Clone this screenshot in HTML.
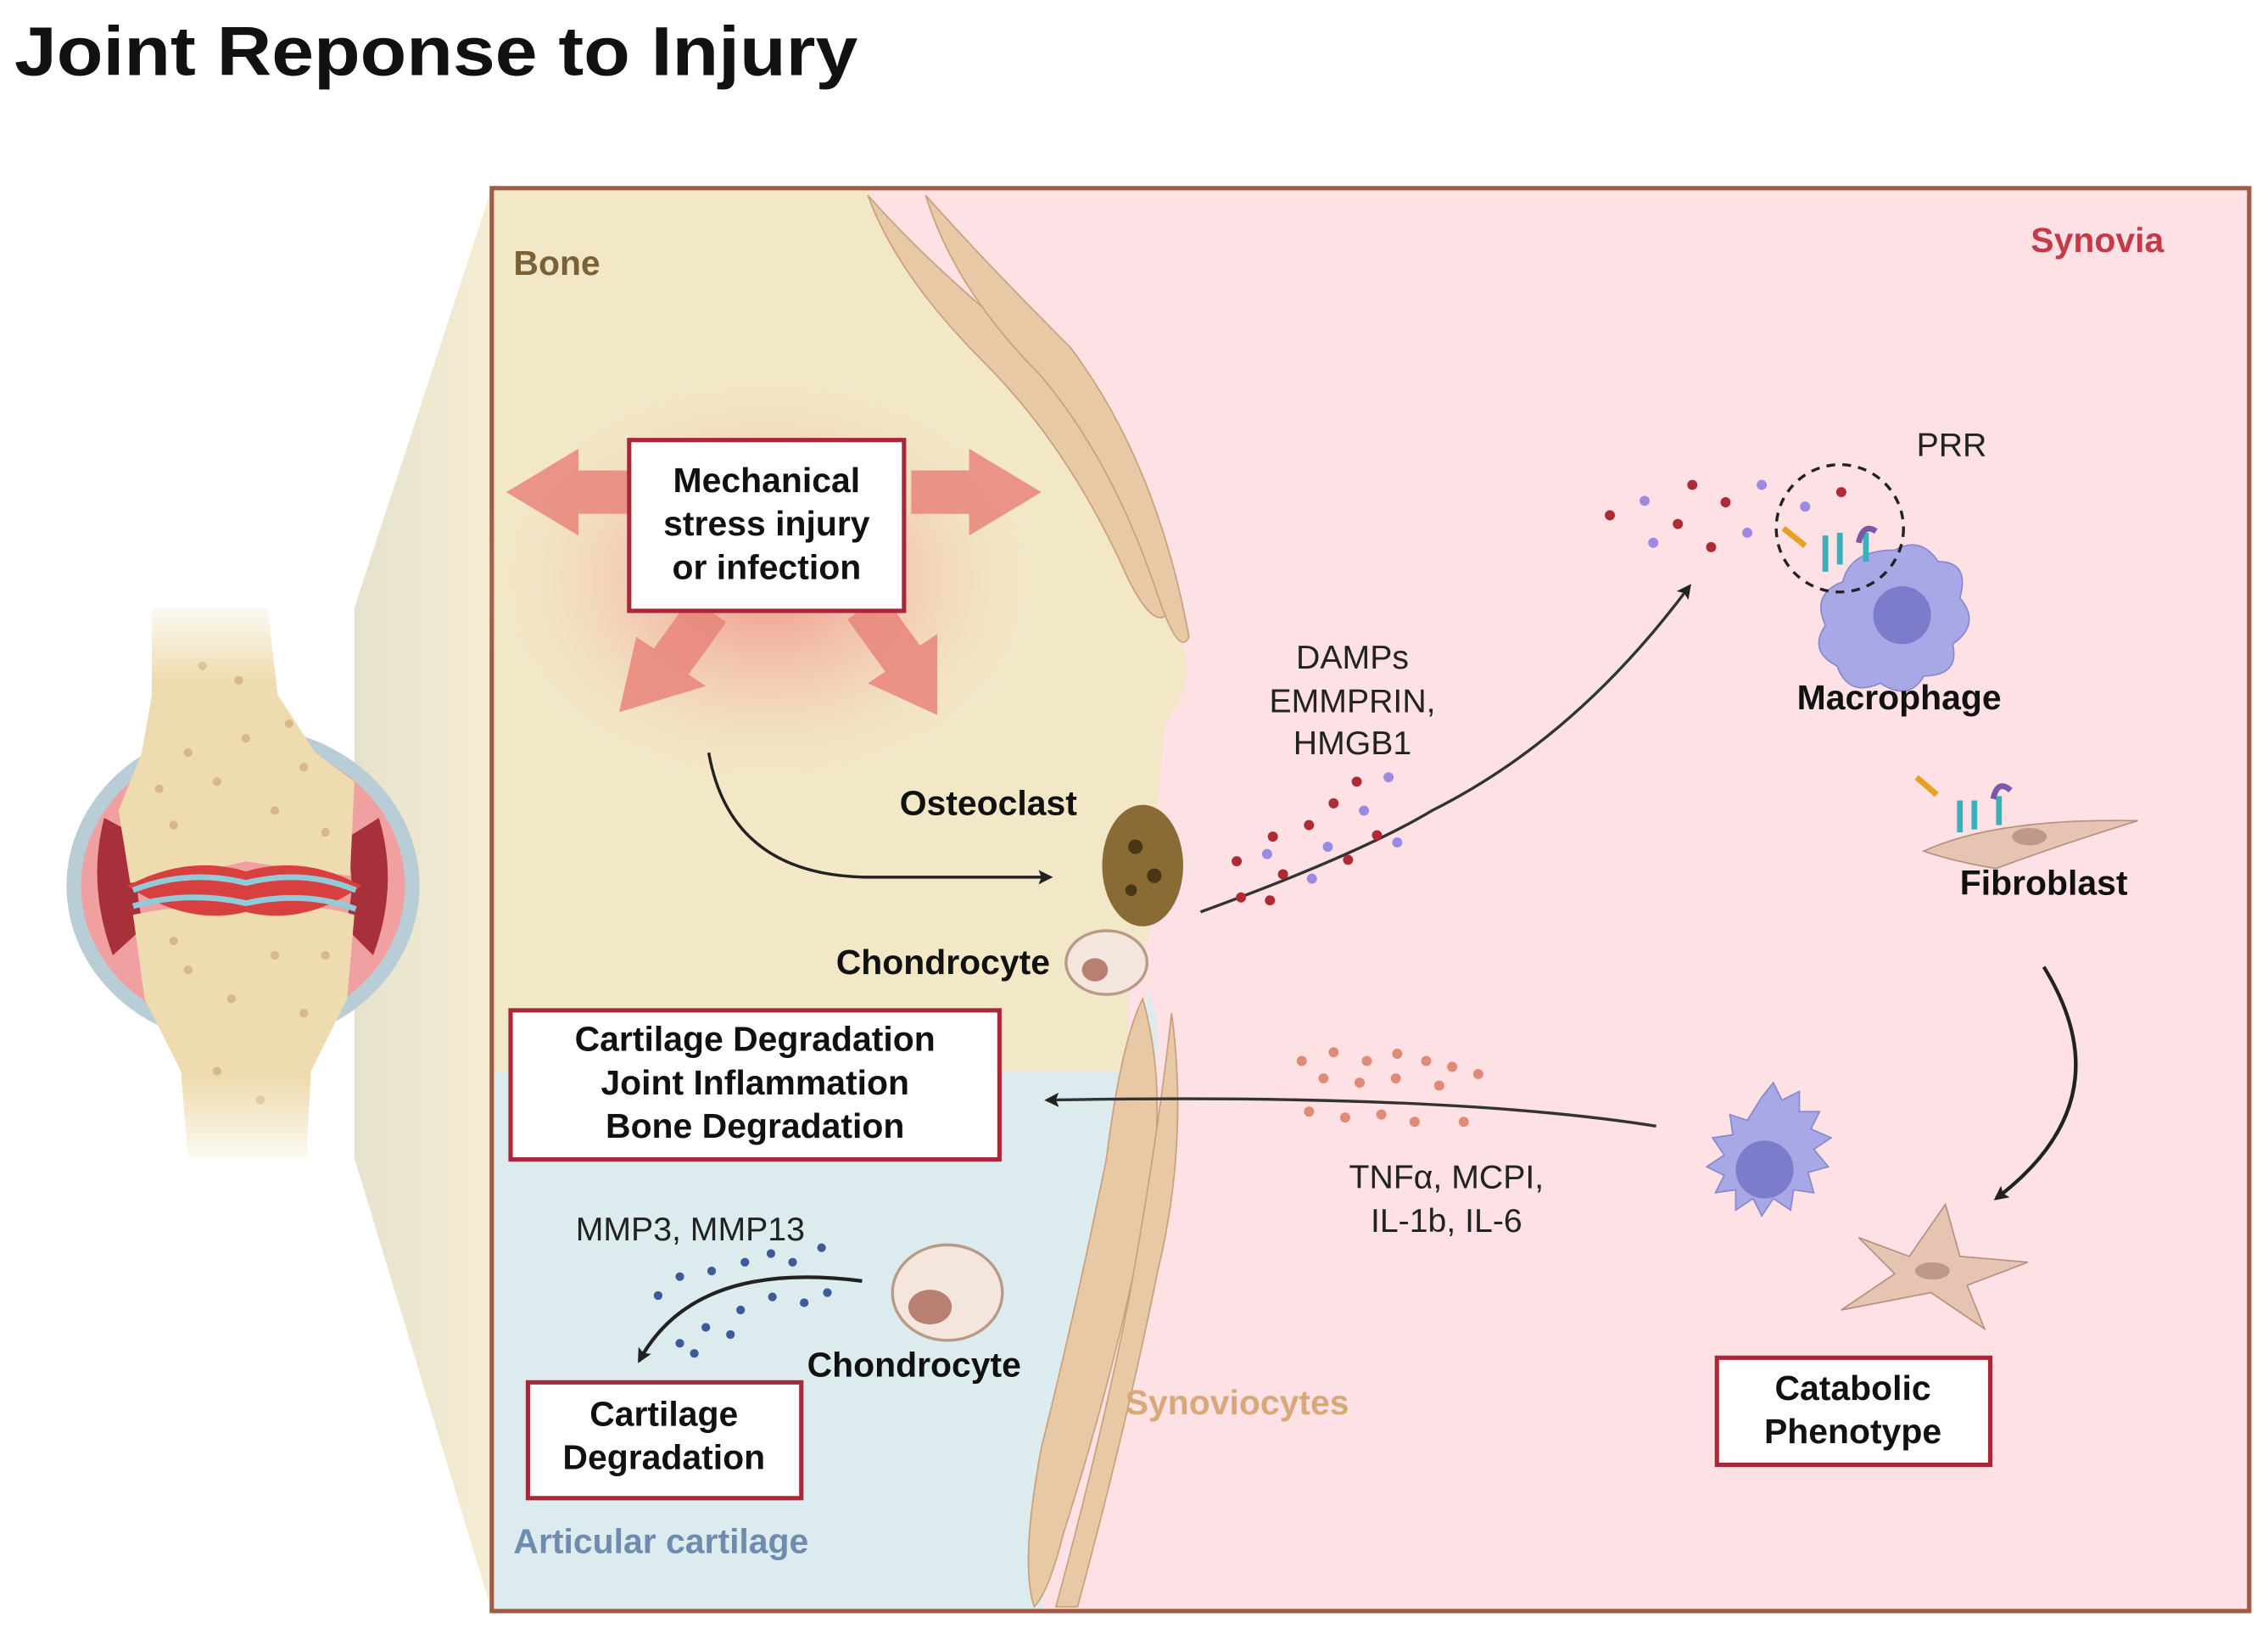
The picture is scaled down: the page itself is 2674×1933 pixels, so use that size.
<!DOCTYPE html>
<html><head><meta charset="utf-8"><style>
html,body{margin:0;padding:0;background:#fff;}
svg{display:block;}
text{font-family:"Liberation Sans",sans-serif;}
.b{font-weight:bold;}
</style></head><body>
<svg width="2674" height="1933" viewBox="0 0 1568 1133" preserveAspectRatio="none" xmlns="http://www.w3.org/2000/svg">
<defs>
<radialGradient id="glow" cx="0.5" cy="0.5" r="0.5">
<stop offset="0" stop-color="#ee8a80" stop-opacity="0.9"/>
<stop offset="0.5" stop-color="#f4b3a3" stop-opacity="0.5"/>
<stop offset="1" stop-color="#f2e8c8" stop-opacity="0"/>
</radialGradient>
<linearGradient id="zoomg" x1="0" x2="1"><stop offset="0" stop-color="#e6e2cf"/><stop offset="1" stop-color="#f5edd2"/></linearGradient>
<linearGradient id="fadeT" x1="0" y1="0" x2="0" y2="1"><stop offset="0" stop-color="#fff" stop-opacity="1"/><stop offset="1" stop-color="#fff" stop-opacity="0"/></linearGradient>
<linearGradient id="fadeB" x1="0" y1="0" x2="0" y2="1"><stop offset="0" stop-color="#fff" stop-opacity="0"/><stop offset="1" stop-color="#fff" stop-opacity="1"/></linearGradient>
<marker id="ah" markerWidth="10" markerHeight="10" refX="8" refY="5" orient="auto" markerUnits="userSpaceOnUse"><path d="M0,0 L10,5 L0,10 L2,5 z" fill="#222"/></marker>
</defs>
<text x="10" y="52" class="b" font-size="48" fill="#111" textLength="583" lengthAdjust="spacingAndGlyphs">Joint Reponse to Injury</text>

<!-- zoom cone -->
<polygon points="245,420 340,130 340,1113 245,800" fill="url(#zoomg)"/>

<!-- knee -->
<g>
<ellipse cx="168" cy="612" rx="122" ry="110" fill="#b9cdd6"/>
<ellipse cx="168" cy="612" rx="112" ry="100" fill="#f0a0a0"/>
<path d="M72,565 Q60,612 78,660 L100,640 Q90,612 100,580z" fill="#a8303a"/>
<path d="M262,565 Q276,612 258,660 L238,640 Q248,612 238,580z" fill="#a8303a"/>
<path d="M105,420 L185,420 L192,480 L218,520 L245,540 L242,605 Q200,600 170,595 Q130,605 90,610 L82,560 L98,520 L105,480z" fill="#eedcb0"/>
<path d="M92,632 Q140,622 170,630 Q210,622 245,632 L240,690 L215,740 L212,800 L130,800 L125,740 L100,690z" fill="#eedcb0"/>
<path d="M88,612 Q130,590 170,602 Q210,590 250,612 Q210,640 170,630 Q130,640 88,612z" fill="#d84040"/>
<path d="M92,615 Q130,600 170,610 Q210,600 246,615" stroke="#8fcbd8" stroke-width="4" fill="none"/>
<path d="M92,626 Q130,615 170,624 Q210,615 246,628" stroke="#8fcbd8" stroke-width="4" fill="none"/>
<g fill="#cfa878" opacity="0.7">
<circle cx="130" cy="520" r="3"/><circle cx="150" cy="540" r="3"/><circle cx="170" cy="510" r="3"/><circle cx="190" cy="560" r="3"/><circle cx="210" cy="530" r="3"/><circle cx="120" cy="570" r="3"/><circle cx="140" cy="460" r="3"/><circle cx="165" cy="470" r="3"/><circle cx="225" cy="575" r="3"/><circle cx="110" cy="545" r="3"/><circle cx="200" cy="500" r="3"/>
<circle cx="130" cy="670" r="3"/><circle cx="160" cy="690" r="3"/><circle cx="190" cy="660" r="3"/><circle cx="210" cy="700" r="3"/><circle cx="150" cy="740" r="3"/><circle cx="180" cy="760" r="3"/><circle cx="120" cy="650" r="3"/><circle cx="225" cy="660" r="3"/>
</g>
<rect x="60" y="410" width="184" height="60" fill="url(#fadeT)"/>
<rect x="60" y="745" width="184" height="65" fill="url(#fadeB)"/>
</g>

<!-- frame regions -->
<rect x="340" y="130" width="1215" height="983" fill="#fde1e4"/>
<path d="M340,130 L600,130 Q640,200 700,250 Q780,330 815,440 Q830,470 805,500 Q800,560 795,640 Q790,670 780,680 L780,740 L340,740z" fill="#f2e8c8"/>
<path d="M340,740 L780,740 Q800,680 790,680 Q810,700 790,800 Q770,900 745,980 Q725,1060 720,1113 L340,1113z" fill="#dcecee"/>
<!-- synoviocyte cells -->
<g fill="#e8c9a6" stroke="#c9a07a" stroke-width="1">
<path d="M600,135 Q640,180 700,230 Q770,300 810,420 Q800,440 780,400 Q740,310 680,250 Q620,190 600,135z"/>
<path d="M640,135 Q680,180 740,240 Q800,320 822,440 Q815,455 800,410 Q770,320 720,260 Q660,200 640,135z"/>
<path d="M790,690 Q810,760 790,850 Q770,950 735,1060 Q725,1100 715,1110 Q705,1080 720,1000 Q745,900 765,800 Q775,720 790,690z"/>
<path d="M810,700 Q822,790 800,880 Q780,980 745,1110 L730,1110 Q760,1000 780,900 Q800,790 810,700z"/>
</g>
<rect x="340" y="130" width="1215" height="983" fill="none" stroke="#a25a45" stroke-width="3"/>

<!-- glow + big arrows -->
<ellipse cx="530" cy="400" rx="200" ry="150" fill="url(#glow)"/>
<g fill="#e8857a" opacity="0.85">
<polygon points="350,340 400,310 400,325 440,325 440,355 400,355 400,370"/>
<polygon points="720,340 670,310 670,325 630,325 630,355 670,355 670,370"/>
<polygon points="428,492 440,440 452,448 478,412 502,430 476,466 488,474"/>
<polygon points="648,494 600,472 612,464 586,428 610,410 636,446 648,438"/>
</g>
<rect x="435" y="304" width="190" height="118" fill="#fff" stroke="#a8283a" stroke-width="3"/>
<text font-size="24" class="b" fill="#111" text-anchor="middle"><tspan x="530" y="340">Mechanical</tspan><tspan x="530" y="370">stress injury</tspan><tspan x="530" y="400">or infection</tspan></text>

<text x="355" y="190" font-size="24" class="b" fill="#7a6236">Bone</text>
<text x="1496" y="174" font-size="24" class="b" fill="#c43a48" text-anchor="end">Synovia</text>
<text x="355" y="1073" font-size="24" class="b" fill="#6f8cb0">Articular cartilage</text>
<text x="778" y="977" font-size="24" class="b" fill="#d8a878">Synoviocytes</text>

<path d="M490,520 Q505,605 600,606 L726,606" stroke="#222" stroke-width="2" fill="none" marker-end="url(#ah)"/>
<text x="622" y="563" font-size="24" class="b" fill="#111">Osteoclast</text>
<ellipse cx="790" cy="598" rx="28" ry="42" fill="#8a6b35"/>
<circle cx="785" cy="585" r="5" fill="#4a3515"/><circle cx="798" cy="605" r="5" fill="#4a3515"/><circle cx="782" cy="615" r="4" fill="#4a3515"/>
<ellipse cx="765" cy="665" rx="28" ry="22" fill="#f4e6dc" stroke="#b89a88" stroke-width="2"/>
<ellipse cx="757" cy="670" rx="9" ry="8" fill="#b88070"/>
<text x="578" y="673" font-size="24" class="b" fill="#111">Chondrocyte</text>

<text font-size="23" fill="#222" text-anchor="middle"><tspan x="935" y="462">DAMPs</tspan><tspan x="935" y="492">EMMPRIN,</tspan><tspan x="935" y="521">HMGB1</tspan></text>
<path d="M830,630 Q940,590 990,560 Q1090,510 1168,405" stroke="#333" stroke-width="2" fill="none" marker-end="url(#ah)"/>
<g fill="#b02a35"><circle cx="855" cy="595" r="3.5"/><circle cx="880" cy="578" r="3.5"/><circle cx="905" cy="570" r="3.5"/><circle cx="922" cy="555" r="3.5"/><circle cx="938" cy="540" r="3.5"/><circle cx="887" cy="604" r="3.5"/><circle cx="858" cy="620" r="3.5"/><circle cx="878" cy="622" r="3.5"/><circle cx="932" cy="594" r="3.5"/><circle cx="952" cy="577" r="3.5"/><circle cx="1113" cy="356" r="3.5"/><circle cx="1160" cy="362" r="3.5"/><circle cx="1170" cy="335" r="3.5"/><circle cx="1193" cy="347" r="3.5"/><circle cx="1183" cy="378" r="3.5"/><circle cx="1273" cy="340" r="3.5"/></g>
<g fill="#9a8ae0"><circle cx="960" cy="537" r="3.5"/><circle cx="943" cy="560" r="3.5"/><circle cx="918" cy="585" r="3.5"/><circle cx="907" cy="607" r="3.5"/><circle cx="966" cy="582" r="3.5"/><circle cx="876" cy="590" r="3.5"/><circle cx="1137" cy="346" r="3.5"/><circle cx="1143" cy="375" r="3.5"/><circle cx="1218" cy="335" r="3.5"/><circle cx="1248" cy="350" r="3.5"/><circle cx="1208" cy="368" r="3.5"/></g>

<text x="1325" y="315" font-size="23" fill="#222">PRR</text>
<path d="M1310,380 q18,-10 30,8 q22,0 15,25 q15,18 -5,32 q5,22 -20,22 q-10,18 -30,5 q-22,10 -30,-12 q-20,-10 -8,-28 q-10,-22 12,-30 q5,-22 36,-22z" fill="#a8a8e6" stroke="#8888cc"/>
<circle cx="1315" cy="425" r="20" fill="#7d7ccc"/>
<circle cx="1272" cy="365" r="44" fill="none" stroke="#222" stroke-width="2" stroke-dasharray="6,5"/>
<path d="M1262,395 l0,-25 M1272,390 l0,-22 M1290,388 l0,-20" stroke="#3ab0b8" stroke-width="4"/>
<path d="M1285,375 q3,-14 12,-8" stroke="#7a5aa8" stroke-width="4" fill="none"/>
<path d="M1233,365 l15,12" stroke="#e8a020" stroke-width="4"/>
<text x="1313" y="490" font-size="24" class="b" fill="#111" text-anchor="middle">Macrophage</text>

<path d="M1330,588 Q1380,565 1478,567 Q1420,585 1380,600 Q1350,595 1330,588z" fill="#e5c4b2" stroke="#b89080"/>
<ellipse cx="1403" cy="578" rx="12" ry="6" fill="#c09888"/>
<path d="M1355,575 l0,-22 M1365,573 l0,-20 M1382,570 l0,-20" stroke="#3ab0b8" stroke-width="4"/>
<path d="M1378,552 q3,-14 12,-6" stroke="#7a5aa8" stroke-width="4" fill="none"/>
<path d="M1325,537 l14,12" stroke="#e8a020" stroke-width="4"/>
<text x="1413" y="618" font-size="24" class="b" fill="#111" text-anchor="middle">Fibroblast</text>
<path d="M1413,668 Q1470,760 1380,828" stroke="#222" stroke-width="2.5" fill="none" marker-end="url(#ah)"/>

<g fill="#a8a8e6" stroke="#8888cc">
<path d="M1218,758 l8,-10 l6,12 l12,-6 l0,14 l14,0 l-6,12 l14,6 l-12,8 l10,12 l-14,4 l4,14 l-14,-2 l-2,14 l-12,-8 l-8,12 l-6,-12 l-12,8 l0,-14 l-14,2 l6,-12 l-12,-6 l12,-8 l-8,-12 l14,-2 l-2,-14 l12,4 z"/>
</g>
<circle cx="1220" cy="808" r="20" fill="#7d7ccc"/>
<path d="M1285,855 L1320,868 L1345,832 L1355,868 L1402,872 L1360,888 L1372,918 L1335,893 L1273,905 L1310,880z" fill="#e5c4b2" stroke="#b89080"/>
<ellipse cx="1336" cy="878" rx="12" ry="6" fill="#c09888"/>
<rect x="1187" y="938" width="189" height="74" fill="#fff" stroke="#a8283a" stroke-width="3"/>
<text font-size="24" class="b" fill="#111" text-anchor="middle"><tspan x="1281" y="967">Catabolic</tspan><tspan x="1281" y="997">Phenotype</tspan></text>

<path d="M1145,778 Q1000,755 724,760" stroke="#333" stroke-width="2" fill="none" marker-end="url(#ah)"/>
<g fill="#e08a78"><circle cx="900" cy="733" r="3.5"/><circle cx="922" cy="727" r="3.5"/><circle cx="945" cy="733" r="3.5"/><circle cx="966" cy="728" r="3.5"/><circle cx="986" cy="733" r="3.5"/><circle cx="1004" cy="737" r="3.5"/><circle cx="1022" cy="742" r="3.5"/><circle cx="915" cy="745" r="3.5"/><circle cx="940" cy="748" r="3.5"/><circle cx="965" cy="745" r="3.5"/><circle cx="995" cy="750" r="3.5"/><circle cx="905" cy="768" r="3.5"/><circle cx="930" cy="772" r="3.5"/><circle cx="955" cy="770" r="3.5"/><circle cx="978" cy="775" r="3.5"/><circle cx="1012" cy="775" r="3.5"/></g>
<text font-size="23" fill="#222" text-anchor="middle"><tspan x="1000" y="821">TNFα, MCPI,</tspan><tspan x="1000" y="851">IL-1b, IL-6</tspan></text>

<rect x="353" y="698" width="338" height="103" fill="#fff" stroke="#a8283a" stroke-width="3"/>
<text font-size="24" class="b" fill="#111" text-anchor="middle"><tspan x="522" y="726">Cartilage Degradation</tspan><tspan x="522" y="756">Joint Inflammation</tspan><tspan x="522" y="786">Bone Degradation</tspan></text>

<text x="398" y="857" font-size="23" fill="#222">MMP3, MMP13</text>
<g fill="#3e5a9a"><circle cx="455" cy="895" r="3"/><circle cx="470" cy="882" r="3"/><circle cx="492" cy="878" r="3"/><circle cx="515" cy="872" r="3"/><circle cx="533" cy="866" r="3"/><circle cx="548" cy="872" r="3"/><circle cx="568" cy="862" r="3"/><circle cx="488" cy="917" r="3"/><circle cx="512" cy="905" r="3"/><circle cx="534" cy="896" r="3"/><circle cx="556" cy="900" r="3"/><circle cx="470" cy="928" r="3"/><circle cx="505" cy="922" r="3"/><circle cx="572" cy="893" r="3"/><circle cx="480" cy="935" r="3"/></g>
<path d="M596,885 Q480,870 442,940" stroke="#222" stroke-width="2.5" fill="none" marker-end="url(#ah)"/>
<ellipse cx="655" cy="893" rx="38" ry="33" fill="#f4e6dc" stroke="#b89a88" stroke-width="2"/>
<ellipse cx="643" cy="903" rx="15" ry="12" fill="#b88070"/>
<text x="558" y="951" font-size="24" class="b" fill="#111">Chondrocyte</text>
<rect x="365" y="955" width="189" height="80" fill="#fff" stroke="#a8283a" stroke-width="3"/>
<text font-size="24" class="b" fill="#111" text-anchor="middle"><tspan x="459" y="985">Cartilage</tspan><tspan x="459" y="1015">Degradation</tspan></text>
</svg>
</body></html>
